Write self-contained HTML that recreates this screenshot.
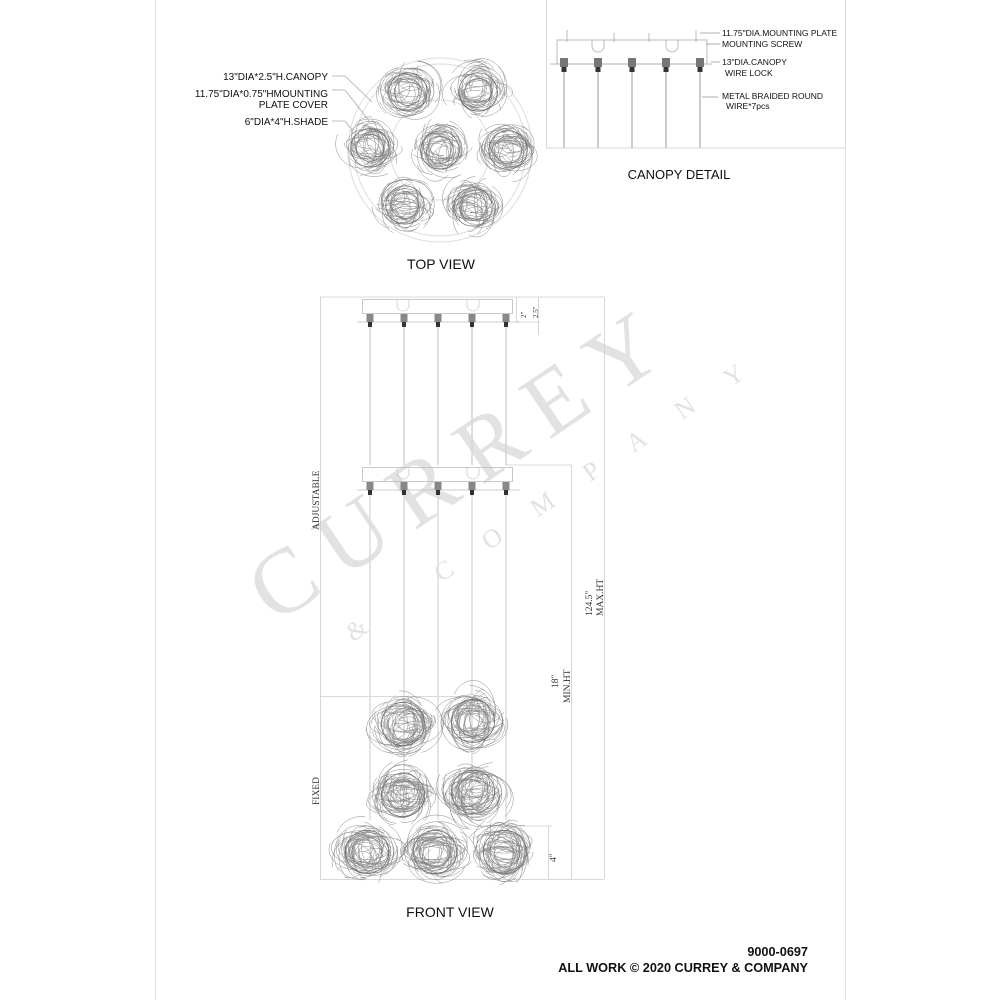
<!DOCTYPE html>
<html><head><meta charset="utf-8">
<style>
html,body{margin:0;padding:0;background:#fff;width:1000px;height:1000px;overflow:hidden}
svg{position:absolute;left:0;top:0}
.s{font-family:"Liberation Sans",sans-serif;fill:#111}
.r{font-family:"Liberation Serif",serif;fill:#333}
</style></head><body>
<svg id="d" width="1000" height="1000" viewBox="0 0 1000 1000">
<line x1="155.5" y1="0" x2="155.5" y2="1000" stroke="#e2e2e2"/>
<line x1="845.5" y1="0" x2="845.5" y2="1000" stroke="#e2e2e2"/>
<rect x="546.5" y="-1" width="299" height="149" fill="none" stroke="#d8d8d8"/>

<g transform="translate(275,625) rotate(-34)" style="font-family:'Liberation Serif',serif">
<text x="0" y="0" font-size="92" letter-spacing="20" fill="#e2e2e2">CURREY</text>
<text x="55" y="58" font-size="26" letter-spacing="40" fill="#e2e2e2">&amp; COMPANY</text>
</g>

<g fill="none" stroke="#ddd">
<circle cx="440" cy="150" r="92"/><circle cx="440" cy="150" r="86"/>
<circle cx="440" cy="150" r="50"/>
</g>
<g id="topnests"></g>
<g stroke="#aaa" fill="none" stroke-width="0.8">
<polyline points="332,76 345,76 372,102"/>
<polyline points="332,90 345,90 370,122"/>
<polyline points="332,121 345,121 352,130"/>
</g>
<g class="s" font-size="10" text-anchor="end">
<text x="328" y="80">13"DIA*2.5"H.CANOPY</text>
<text x="328" y="97">11.75"DIA*0.75"HMOUNTING</text>
<text x="328" y="108">PLATE COVER</text>
<text x="328" y="125">6"DIA*4"H.SHADE</text>
</g>
<text class="s" x="441" y="269" font-size="14" text-anchor="middle">TOP VIEW</text>

<g stroke="#aaa" fill="none" stroke-width="0.8">
<rect x="557" y="40" width="150" height="24"/>
<line x1="550" y1="64" x2="712" y2="64"/>
<line x1="567" y1="30" x2="567" y2="42"/><line x1="614" y1="33" x2="614" y2="42"/>
<line x1="649" y1="33" x2="649" y2="42"/><line x1="696" y1="30" x2="696" y2="42"/>
<path d="M592,40 v6 a6,6 0 0 0 12,0 v-6 M666,40 v6 a6,6 0 0 0 12,0 v-6"/>
</g>
<g id="cwires"></g>
<g stroke="#999" stroke-width="0.8">
<line x1="700" y1="33" x2="720" y2="33"/><line x1="706" y1="44" x2="720" y2="44"/>
<line x1="711" y1="62" x2="720" y2="62"/><line x1="702" y1="97" x2="718" y2="97"/>
</g>
<g class="s" font-size="8.5">
<text x="722" y="36">11.75"DIA.MOUNTING PLATE</text>
<text x="722" y="47">MOUNTING SCREW</text>
<text x="722" y="65">13"DIA.CANOPY</text>
<text x="725" y="76">WIRE LOCK</text>
<text x="722" y="99">METAL BRAIDED ROUND</text>
<text x="726" y="109">WIRE*7pcs</text>
</g>
<text class="s" x="679" y="179" font-size="13" text-anchor="middle">CANOPY DETAIL</text>

<g stroke="#ccc" stroke-width="0.8" fill="none">
<line x1="320" y1="297" x2="604" y2="297"/>
<line x1="320.5" y1="297" x2="320.5" y2="879"/>
<line x1="604.5" y1="297" x2="604.5" y2="879"/>
<line x1="571.5" y1="465" x2="571.5" y2="879"/>
<line x1="320" y1="879.5" x2="604" y2="879.5"/>
<line x1="320" y1="696.5" x2="480" y2="696.5"/>
<line x1="516" y1="322" x2="540" y2="322"/>
<line x1="516.5" y1="297" x2="516.5" y2="322"/>
<line x1="538.5" y1="297" x2="538.5" y2="335"/>
<line x1="505" y1="465" x2="571" y2="465"/>
<line x1="548.5" y1="826" x2="548.5" y2="879"/>
<line x1="520" y1="826" x2="552" y2="826"/>
</g>
<g id="canopies"></g>
<g id="fnests"></g>
<g class="r" font-size="9.5">
<text transform="translate(319,530) rotate(-90)">ADJUSTABLE</text>
<text transform="translate(319,805) rotate(-90)">FIXED</text>
<text transform="translate(592,616) rotate(-90)">124.5"</text>
<text transform="translate(603,616) rotate(-90)">MAX.HT</text>
<text transform="translate(558,688) rotate(-90)">18"</text>
<text transform="translate(570,703) rotate(-90)">MIN.HT</text>
<text transform="translate(556,862) rotate(-90)">4"</text>
<text transform="translate(526,318) rotate(-90)" font-size="7">2"</text>
<text transform="translate(538,318) rotate(-90)" font-size="7">2.5"</text>
</g>
<text class="s" x="450" y="917" font-size="14" text-anchor="middle">FRONT VIEW</text>
<text class="s" x="808" y="956" font-size="12.7" font-weight="bold" text-anchor="end">9000-0697</text>
<text class="s" x="808" y="972" font-size="12.7" font-weight="bold" text-anchor="end">ALL WORK © 2020 CURREY &amp; COMPANY</text>
</svg>
<script>
var NS="http://www.w3.org/2000/svg",seed=7;
function rnd(){seed=(seed*16807)%2147483647;return (seed-1)/2147483646;}
function el(p,t,a){var e=document.createElementNS(NS,t);for(var k in a)e.setAttribute(k,a[k]);p.appendChild(e);return e;}
function nest(g,cx,cy,r,n){
 var d="";
 for(var i=0;i<n;i++){
  var a=rnd()*6.28,rr=r*0.35*rnd();
  var x=cx+Math.cos(a)*rr,y=cy+Math.sin(a)*rr;
  var rx=r*(0.35+rnd()*0.5),ry=r*(0.3+rnd()*0.5);
  var a1=rnd()*6.28,a2=a1+1+rnd()*3;
  d+="M"+(x+Math.cos(a1)*rx).toFixed(1)+","+(y+Math.sin(a1)*ry).toFixed(1)+
   "A"+rx.toFixed(1)+","+ry.toFixed(1)+" 0 0 1 "+(x+Math.cos(a2)*rx).toFixed(1)+","+(y+Math.sin(a2)*ry).toFixed(1);
 }
 el(g,"path",{d:d,fill:"none",stroke:"#8a8a8a","stroke-width":"0.5"});
 el(g,"circle",{cx:cx,cy:cy,r:r*0.6,fill:"none",stroke:"#666","stroke-width":"0.7"});
 el(g,"circle",{cx:cx,cy:cy,r:r*0.42,fill:"none",stroke:"#777","stroke-width":"0.6"});
}
var tg=document.getElementById("topnests");
[[408,92],[478,92],[370,148],[440,150],[508,150],[405,205],[473,207]].forEach(function(p){nest(tg,p[0],p[1],32,60);});
var cw=document.getElementById("cwires");
[564,598,632,666,700].forEach(function(x){
 el(cw,"line",{x1:x,y1:72,x2:x,y2:148,stroke:"#ccc","stroke-width":"2"});
 el(cw,"rect",{x:x-4,y:58,width:8,height:9,fill:"#777"});
 el(cw,"rect",{x:x-2.5,y:67,width:5,height:5,fill:"#333"});
});
var cg=document.getElementById("canopies"),xs=[370,404,438,472,506];
[297,465].forEach(function(y0){
 el(cg,"rect",{x:362.5,y:y0+2.5,width:150,height:14,fill:"none",stroke:"#bbb","stroke-width":"0.8"});
 el(cg,"line",{x1:357,y1:y0+25,x2:520,y2:y0+25,stroke:"#bbb","stroke-width":"0.8"});
 el(cg,"path",{d:"M397,"+(y0+3)+"v5a6,6 0 0 0 12,0v-5M467,"+(y0+3)+"v5a6,6 0 0 0 12,0v-5",fill:"none",stroke:"#ccc","stroke-width":"0.8"});
});
xs.forEach(function(x){
 el(cg,"line",{x1:x,y1:322,x2:x,y2:465,stroke:"#d4d4d4","stroke-width":"1.5"});
 el(cg,"line",{x1:x,y1:490,x2:x,y2:820,stroke:"#dcdcdc","stroke-width":"1.5"});
 [319,487].forEach(function(y){
  el(cg,"rect",{x:x-3.5,y:y-5,width:7,height:8,fill:"#888"});
  el(cg,"rect",{x:x-2,y:y+3,width:4,height:5,fill:"#333"});
 });
});
var fg=document.getElementById("fnests");
[[403,724],[473,721],[403,795],[473,792],[367,852],[435,852],[505,852]].forEach(function(p){nest(fg,p[0],p[1],36,75);});
</script>
</body></html>
